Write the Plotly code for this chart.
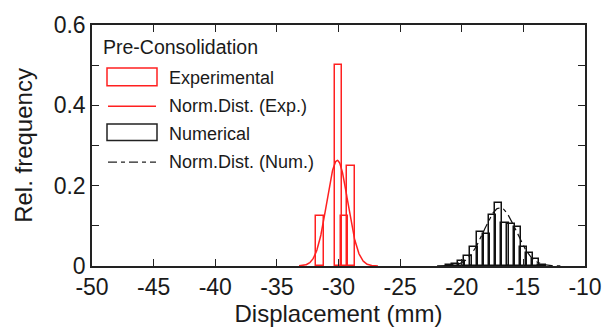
import numpy as np
import plotly.graph_objects as go

# ---- data ----
exp_centers = [-31.5, -30.0, -29.5, -29.0]
exp_freq = [0.125, 0.5, 0.125, 0.25]

num_centers = [-21.0, -20.5, -20.0, -19.5, -19.0, -18.5, -18.0, -17.5, -17.0,
               -16.5, -16.0, -15.5, -15.0, -14.5, -14.0, -13.5]
num_freq = [0.002, 0.004, 0.012, 0.024, 0.047, 0.084, 0.080, 0.128, 0.157,
            0.108, 0.104, 0.098, 0.047, 0.032, 0.017, 0.003]

# normal-distribution fit parameters
exp_mean, exp_sd, exp_peak = -30.1, 0.85, 0.263
num_mean, num_sd, num_peak = -16.9, 1.3, 0.145

x_ticks = [-50, -45, -40, -35, -30, -25, -20, -15, -10]
x_ticktext = ["-50", "-45", "-40", "-35", "-30", "-25", "-20", "-15", "-10"]
y_ticks = [0, 0.1, 0.2, 0.3, 0.4, 0.5, 0.6]
y_ticktext = ["0", "", "0.2", "", "0.4", "", "0.6"]

FONT = "Liberation Sans, Arial, sans-serif"
TXT = "#1a1a1a"

xe = np.linspace(-33.2, -26.8, 200)
ye = exp_peak * np.exp(-0.5 * ((xe - exp_mean) / exp_sd) ** 2)
xn = np.linspace(-22, -12, 200)
yn = num_peak * np.exp(-0.5 * ((xn - num_mean) / num_sd) ** 2)

fig = go.Figure()
fig.add_trace(go.Bar(x=exp_centers, y=exp_freq, width=0.6,
                     marker=dict(color="rgba(0,0,0,0)", line=dict(color="#ff2020", width=1.5)),
                     showlegend=False))
fig.add_trace(go.Scatter(x=xe, y=ye, mode="lines", line=dict(color="#ff2020", width=1.5),
                         showlegend=False))
fig.add_trace(go.Bar(x=num_centers, y=num_freq, width=0.6,
                     marker=dict(color="rgba(0,0,0,0)", line=dict(color="#111111", width=1.5)),
                     showlegend=False))
fig.add_trace(go.Scatter(x=xn, y=yn, mode="lines",
                         line=dict(color="#111111", width=1.2, dash="9px,4px,4px,4px"),
                         showlegend=False))

# plot area in pixels: x 92..585, y 20..266
L, R, T, B = 92, 585, 20, 266
def px(x):
    return (x - L) / (R - L)
def py(y):
    return (B - y) / (B - T)

shapes = [
    dict(type="rect", xref="paper", yref="paper", x0=px(107), x1=px(157), y0=py(82), y1=py(64),
         line=dict(color="#ff2020", width=1.5), fillcolor="rgba(0,0,0,0)"),
    dict(type="line", xref="paper", yref="paper", x0=px(108), x1=px(156), y0=py(103), y1=py(103),
         line=dict(color="#ff2020", width=1.5)),
    dict(type="rect", xref="paper", yref="paper", x0=px(107), x1=px(157), y0=py(138), y1=py(121),
         line=dict(color="#222222", width=1.5), fillcolor="rgba(0,0,0,0)"),
    dict(type="line", xref="paper", yref="paper", x0=px(108), x1=px(156), y0=py(160), y1=py(160),
         line=dict(color="#222222", width=1.2, dash="9px,4px,4px,4px")),
]
ann = []
def label(text, x, y, size=18):
    ann.append(dict(text=text, xref="paper", yref="paper", x=px(x), y=py(y),
                    xanchor="left", yanchor="middle", showarrow=False,
                    font=dict(family=FONT, size=size, color=TXT)))
label("Pre-Consolidation", 101, 42, 19.5)
label("Experimental", 167, 74)
label("Norm.Dist. (Exp.)", 167, 103)
label("Numerical", 167, 131)
label("Norm.Dist. (Num.)", 167, 160)

fig.update_layout(
    width=614, height=332,
    margin=dict(l=L, r=614 - R, t=T, b=332 - B),
    plot_bgcolor="white", paper_bgcolor="white",
    barmode="overlay", bargap=0,
    shapes=shapes, annotations=ann,
    font=dict(family=FONT, color=TXT),
)
fig.update_xaxes(range=[-50, -10], tickvals=x_ticks, ticktext=x_ticktext, ticks="inside", ticklen=7,
                 tickcolor="#222", showline=True, linecolor="#222", linewidth=1.5,
                 mirror="ticks", showgrid=False, zeroline=False,
                 tickfont=dict(size=23, family=FONT, color=TXT),
                 title=dict(text="Displacement (mm)", font=dict(size=24, family=FONT, color=TXT),
                            standoff=0))
fig.update_yaxes(range=[0, 0.6], tickvals=y_ticks, ticktext=y_ticktext, ticks="inside",
                 ticklen=7, tickcolor="#222", showline=True, linecolor="#222", linewidth=1.5,
                 mirror="ticks", showgrid=False, zeroline=False,
                 tickfont=dict(size=23, family=FONT, color=TXT),
                 title=dict(text="Rel. frequency", font=dict(size=24, family=FONT, color=TXT),
                            standoff=14))

fig.write_html("out.html")
